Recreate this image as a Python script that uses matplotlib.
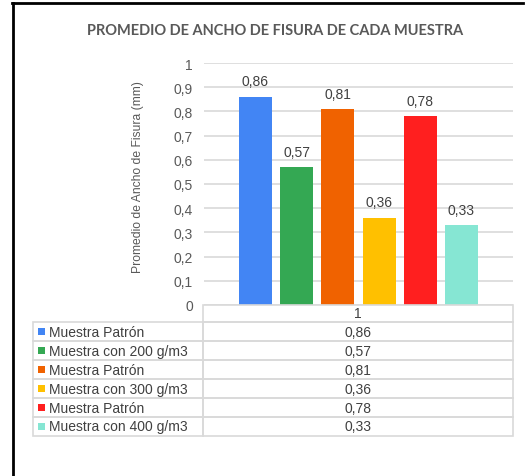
import matplotlib.pyplot as plt
from matplotlib.lines import Line2D
from matplotlib.patches import Rectangle

# data
series = ["Muestra Patrón", "Muestra con 200 g/m3", "Muestra Patrón",
          "Muestra con 300 g/m3", "Muestra Patrón", "Muestra con 400 g/m3"]
values = [0.86, 0.57, 0.81, 0.36, 0.78, 0.33]
colors = ["#4285F4", "#34A853", "#F06200", "#FFC000", "#FF1F1F", "#86E6D3"]
category = "1"
yticks = [0, 0.1, 0.2, 0.3, 0.4, 0.5, 0.6, 0.7, 0.8, 0.9, 1]

W, H = 527, 477
plt.rcParams['font.family'] = ['Liberation Sans', 'DejaVu Sans']
fig = plt.figure(figsize=(W / 100, H / 100), dpi=100)


def fx(x):
    return x / W


def fy(y):
    return 1 - y / H


def fmt(v):
    return f"{v:g}".replace(".", ",")


# frame lines (left and top)
fig.add_artist(Line2D([fx(12), fx(523)], [fy(4), fy(4)], color="black", lw=2))
fig.add_artist(Line2D([fx(13), fx(13)], [fy(4), fy(477)], color="black", lw=2))

fig.text(fx(275), fy(31), "PROMEDIO DE ANCHO DE FISURA DE CADA MUESTRA",
         ha="center", va="center", fontsize=10.5, fontweight="bold",
         color="#595959", family=["Lato", "DejaVu Sans"])

# plot area
ax = fig.add_axes([fx(204), fy(306), (513 - 204) / W, (306 - 64) / H])
step = 41.2 / 309
width = 33 / 309
for i, (v, c) in enumerate(zip(values, colors)):
    x = (i - 2.5) * step
    ax.bar(x, v, width=width, color=c, zorder=3)
    ax.text(x, v + 0.035, fmt(v), ha="center", va="bottom",
            fontsize=10, color="#404040")

ax.set_xlim(-0.5, 0.5)
ax.set_ylim(0, 1)
ax.set_yticks(yticks)
ax.set_yticklabels([fmt(t) for t in yticks], fontsize=10, color="#595959")
ax.tick_params(axis="y", length=0, pad=8)
ax.set_xticks([])
ax.grid(axis="y", color="#D9D9D9", lw=1.2, zorder=0)
for s in ax.spines.values():
    s.set_visible(False)
ax.set_ylabel("Promedio de Ancho de Fisura (mm)", fontsize=8.7,
              color="#595959")
ax.yaxis.set_label_coords(-0.195, 0.533)

# data table under the chart
line_c = "#D9D9D9"
x0, x1, x2 = 33, 203, 513
rows = [305.7, 323.3, 342.3, 361.3, 380.3, 399.2, 418.1, 436.5]
# header cell
fig.add_artist(Rectangle((fx(x1), fy(rows[1])), (x2 - x1) / W,
                         (rows[1] - rows[0]) / H, fill=False,
                         ec=line_c, lw=1.2))
fig.text(fx((x1 + x2) / 2), fy((rows[0] + rows[1]) / 2), category,
         ha="center", va="center", fontsize=10, color="#404040")
for i, (name, v, c) in enumerate(zip(series, values, colors)):
    top, bot = rows[i + 1], rows[i + 2]
    for a, b in [(x0, x1), (x1, x2)]:
        fig.add_artist(Rectangle((fx(a), fy(bot)), (b - a) / W,
                                 (bot - top) / H, fill=False,
                                 ec=line_c, lw=1.2))
    yc = (top + bot) / 2
    fig.add_artist(Rectangle((fx(38), fy(yc + 3.5)), 7 / W, 7 / H,
                             fc=c, ec="none"))
    fig.text(fx(49), fy(yc), name, ha="left", va="center",
             fontsize=10, color="#404040")
    fig.text(fx((x1 + x2) / 2), fy(yc), fmt(v), ha="center", va="center",
             fontsize=10, color="#404040")

fig.savefig("out.png", dpi=100, facecolor="white")
